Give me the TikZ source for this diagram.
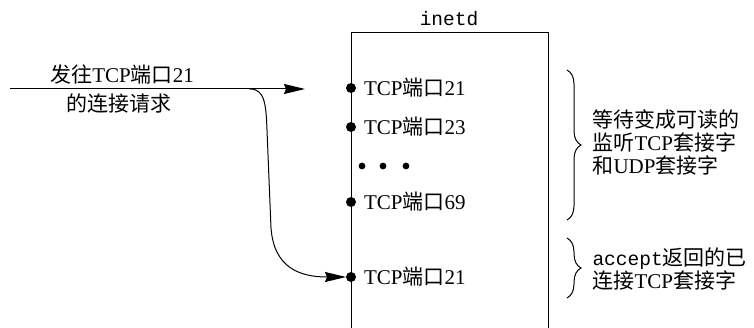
\documentclass[tikz,border=0pt]{standalone}
\usepackage{fontspec}
\setmainfont{Liberation Serif}
\setmonofont{Liberation Mono}
\newfontfamily\cjk{Noto Sans CJK SC}
\newcommand{\zh}[1]{{\cjk #1}}
\newcommand{\tcall}[1]{{\ttfamily\fontsize{19.5}{23}\selectfont #1}}
\usetikzlibrary{arrows.meta,positioning,decorations.pathreplacing}

\begin{document}
\begin{tikzpicture}[x=1pt,y=-1pt,>={Stealth[length=21pt,width=10pt,inset=2pt]},line width=1pt,
  every node/.style={font=\fontsize{21}{23}\selectfont},
  portdot/.style={circle,fill,inner sep=0pt,minimum size=10pt},
  portlbl/.style={anchor=west,inner sep=0pt},
  rbrace/.style={decorate,decoration={brace,amplitude=14pt}}]
\useasboundingbox (0,0) rectangle (754,328);
% inetd box, open at the bottom
\draw (351,328) -- (351,33) -- (548,33) -- (548,328);
\node[font=\ttfamily\fontsize{19.5}{21}\selectfont] (inetd) at (449,19) {inetd};
% listening and connected sockets
\node[portdot] (p21) at (351,88) {};
\node[portdot] (p23) at (351,127) {};
\node[portdot] (p69) at (351,202) {};
\node[portdot] (c21) at (351,277) {};
\node[portlbl,right=7pt of p21] (l21) {TCP\zh{端口}21};
\node[portlbl,right=7pt of p23] (l23) {TCP\zh{端口}23};
\node[portlbl,right=7pt of p69] (l69) {TCP\zh{端口}69};
\node[portlbl,right=7pt of c21] (lc21) {TCP\zh{端口}21};
\foreach \x in {362,383,406} { \fill (\x,166) circle (3.4pt); }
% incoming request
\coordinate (src) at (10,89);
\coordinate (dst) at (305,89);
\coordinate (fork) at (250,89);
\draw[->] (src) -- node[pos=0.38,above=1pt] (req1) {\zh{发往}TCP\zh{端口}21}
  node[pos=0.37,below=1pt] (req2) {\zh{的连接请求}} (dst);
\draw[->,shorten >=5pt] (fork) .. controls (265,89) and (266,105) .. (267,130) -- (271,228)
  .. controls (274,268) and (300,277) .. (c21.center);
% braces
\draw[rbrace] (567,70) -- (567,220) coordinate[midway] (b1);
\draw[rbrace] (567,238) -- (567,298) coordinate[midway] (b2);
\node[anchor=west,align=left,inner sep=0pt] (t1) at (592,142) {\zh{等待变成可读的}\\\zh{监听}TCP\zh{套接字}\\\zh{和}UDP\zh{套接字}};
\node[anchor=west,align=left,inner sep=0pt] (t2) at (592,269) {\tcall{accept}\zh{返回的已}\\\zh{连接}TCP\zh{套接字}};
\end{tikzpicture}
\end{document}
